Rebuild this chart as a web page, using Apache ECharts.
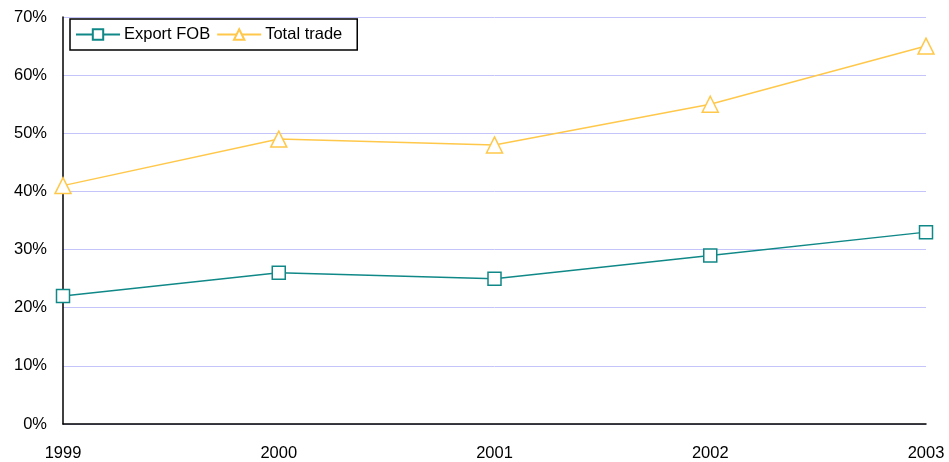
<!DOCTYPE html>
<html>
<head>
<meta charset="utf-8">
<script src="https://cdn.jsdelivr.net/npm/echarts@6/dist/echarts.min.js"></script>
<style>
  html, body { margin: 0; padding: 0; background: #fff; }
  #chart { width: 949px; height: 462px; }
</style>
</head>
<body>
<div id="chart"></div>
<script>
const years = ['1999', '2000', '2001', '2002', '2003'];
const exportFob = [22, 26, 25, 29, 33];
const totalTrade = [41, 49, 48, 55, 65];

const chart = echarts.init(document.getElementById('chart'));
const font = 'Liberation Sans, Arial, sans-serif';

const option = {
    backgroundColor: '#ffffff',
    animation: false,
    grid: { left: 63, right: 23, top: 17, bottom: 38 },
    legend: {
        left: 70,
        top: 19,
        orient: 'horizontal',
        itemWidth: 44,
        itemHeight: 13,
        itemGap: 6,
        padding: [7, 15, 7, 5],
        borderColor: '#000',
        borderWidth: 1.5,
        borderRadius: 0,
        textStyle: { color: '#000', fontSize: 16.5, fontFamily: font, padding: [0, 0, 0, -1] },
        data: ['Export FOB', 'Total trade']
    },
    xAxis: {
        type: 'category',
        data: years,
        boundaryGap: false,
        axisLine: { lineStyle: { color: '#000', width: 1.5 } },
        axisTick: { show: false },
        axisLabel: { color: '#000', fontSize: 16.5, fontFamily: font, margin: 21 },
        splitLine: { show: false }
    },
    yAxis: {
        type: 'value',
        min: 0,
        max: 70,
        interval: 10,
        axisLine: { show: true, lineStyle: { color: '#000', width: 1.5 } },
        axisTick: { show: false },
        axisLabel: { color: '#000', fontSize: 16.5, fontFamily: font, margin: 16, formatter: '{value}%' },
        splitLine: { show: true, lineStyle: { color: '#c4c4fa', width: 1 } }
    },
    series: [
        {
            name: 'Export FOB',
            type: 'line',
            data: exportFob,
            symbol: 'rect',
            symbolSize: 13,
            lineStyle: { color: '#108888', width: 1.5 },
            itemStyle: { color: '#fff', borderColor: '#108888', borderWidth: 1.5 }
        },
        {
            name: 'Total trade',
            type: 'line',
            data: totalTrade,
            symbol: 'triangle',
            symbolSize: 16,
            lineStyle: { color: '#ffc84a', width: 1.5 },
            itemStyle: { color: '#fff', borderColor: '#ffc84a', borderWidth: 1.5 }
        }
    ]
};

chart.setOption(option);
window.onresize = chart.resize;
</script>
</body>
</html>
